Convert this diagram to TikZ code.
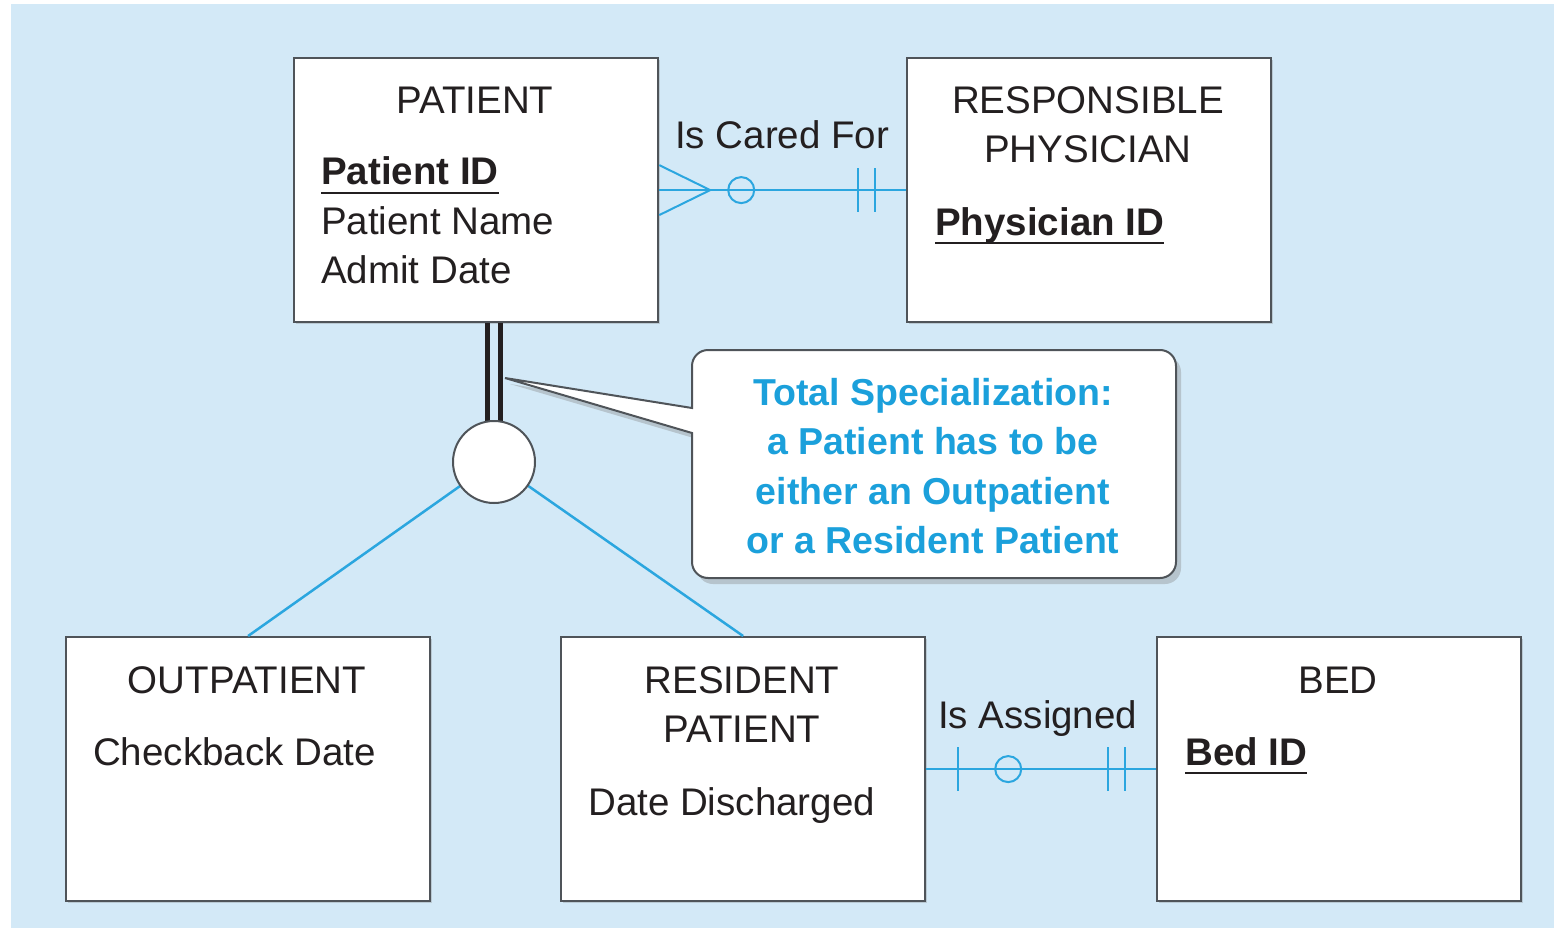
\documentclass[tikz,border=0pt]{standalone}
\usepackage{fontspec}
\setmainfont{Liberation Sans}
\usetikzlibrary{shadows,calc}
\definecolor{bg}{HTML}{D3E9F7}
\definecolor{relc}{HTML}{2BA6DF}
\definecolor{callblue}{HTML}{1BA0DB}
\definecolor{border}{HTML}{4F5459}
\definecolor{ink}{HTML}{231F20}
\begin{document}
\begin{tikzpicture}[x=1pt,y=-1pt,
  entity/.style={draw=border,line width=2.2pt,fill=white,inner sep=0pt,anchor=north west,
    minimum width=364pt,minimum height=264pt,
    drop shadow={shadow xshift=1.5pt,shadow yshift=-1.5pt,opacity=0.3}},
  lbl/.style={inner sep=0pt,text=ink,font=\fontsize{38.5}{49}\selectfont},
  keylbl/.style={inner sep=0pt,text=ink,font=\fontsize{38.5}{49}\selectfont\bfseries},
  relline/.style={draw=relc,line width=2.5pt},
  tick/.style={draw=relc,line width=2pt},
  ulin/.style={draw=ink,line width=1.6pt},
  dblline/.style={draw=ink,line width=5pt},
  callshape/.style={draw=border,line width=2pt,fill=white,
    drop shadow={shadow xshift=5pt,shadow yshift=-6pt,opacity=0.35}},
  calltxt/.style={inner sep=0pt,text=callblue,align=center,font=\fontsize{37.5}{49.5}\selectfont\bfseries}
]
\useasboundingbox (0,0) rectangle (1554,928);
\fill[bg] (11,4) rectangle (1554,928);

% entity boxes
\node[entity] (pat) at (293,57) {};
\node[entity] (phy) at (906,57) {};
\node[entity] (outp) at (65,636) {};
\node[entity] (res) at (560,636) {};
\node[entity] (bed) at (1156,636) {};

% PATIENT
\node[lbl,anchor=base] (patT) at (475,114) {PATIENT};
\node[keylbl,anchor=base west] (patId) at (321,185) {Patient ID};
\draw[ulin] ([yshift=-8pt]patId.base west) -- ([yshift=-8pt]patId.base east);
\node[lbl,anchor=base west] (patName) at (321,234) {Patient Name};
\node[lbl,anchor=base west] (patAdm) at (321,283) {Admit Date};

% RESPONSIBLE PHYSICIAN
\node[lbl,anchor=base] (phyT1) at (1088,114) {RESPONSIBLE};
\node[lbl,anchor=base] (phyT2) at (1088,163) {PHYSICIAN};
\node[keylbl,anchor=base west] (phyId) at (935,235) {Physician ID};
\draw[ulin] ([yshift=-8pt]phyId.base west) -- ([yshift=-8pt]phyId.base east);

% OUTPATIENT
\node[lbl,anchor=base] (outT) at (247,693) {OUTPATIENT};
\node[lbl,anchor=base west] (outCb) at (93,765) {Checkback Date};

% RESIDENT PATIENT
\node[lbl,anchor=base] (resT1) at (742,693) {RESIDENT};
\node[lbl,anchor=base] (resT2) at (742,742) {PATIENT};
\node[lbl,anchor=base west] (resDd) at (588,815) {Date Discharged};

% BED
\node[lbl,anchor=base] (bedT) at (1338,693) {BED};
\node[keylbl,anchor=base west] (bedId) at (1185,765) {Bed ID};
\draw[ulin] ([yshift=-8pt]bedId.base west) -- ([yshift=-8pt]bedId.base east);

% Is Cared For relationship
\draw[relline] (pat.east) -- (phy.west);
\draw[tick] ($(pat.east)+(0,-25)$) -- ($(pat.east)+(51,0)$) -- ($(pat.east)+(0,25)$);
\draw[tick] ($(pat.east)+(82,0)$) circle[radius=13pt];
\draw[tick] ($(phy.west)+(-48,-22)$) -- ($(phy.west)+(-48,22)$);
\draw[tick] ($(phy.west)+(-31,-22)$) -- ($(phy.west)+(-31,22)$);
\node[lbl,anchor=base west] (caredLbl) at (675,149) {Is Cared For};

% Is Assigned relationship
\draw[relline] (res.east) -- (bed.west);
\draw[tick] ($(res.east)+(32,-22)$) -- ($(res.east)+(32,22)$);
\draw[tick] ($(res.east)+(82,0)$) circle[radius=13pt];
\draw[tick] ($(bed.west)+(-48,-22)$) -- ($(bed.west)+(-48,22)$);
\draw[tick] ($(bed.west)+(-31,-22)$) -- ($(bed.west)+(-31,22)$);
\node[lbl,anchor=base west] (assLbl) at (938,728) {Is Assigned};

% specialization
\coordinate (cc) at (494,462);
\coordinate (dl) at ($(cc)+(-6.5,0)$);
\coordinate (dr) at ($(cc)+(6.5,0)$);
\draw[dblline] (dl |- pat.south) -- (dl);
\draw[dblline] (dr |- pat.south) -- (dr);
\node[circle,minimum size=82pt,inner sep=0pt] (circ) at (cc) {};
\draw[relline] (circ) -- (outp.north);
\draw[relline] (circ) -- (res.north);
\draw[draw=border,line width=2pt,fill=white] (cc) circle[radius=41pt];

% callout
\coordinate (tip) at (505,378);
\path[callshape] (tip) -- (692,408) [rounded corners=16pt] -- (692,350) -- (1176,350) -- (1176,578) -- (692,578) [sharp corners] -- (692,433) -- cycle;
\node[calltxt] (callT) at (933,466) {Total Specialization:\\a Patient has to be\\either an Outpatient\\or a Resident Patient};
\end{tikzpicture}
\end{document}
